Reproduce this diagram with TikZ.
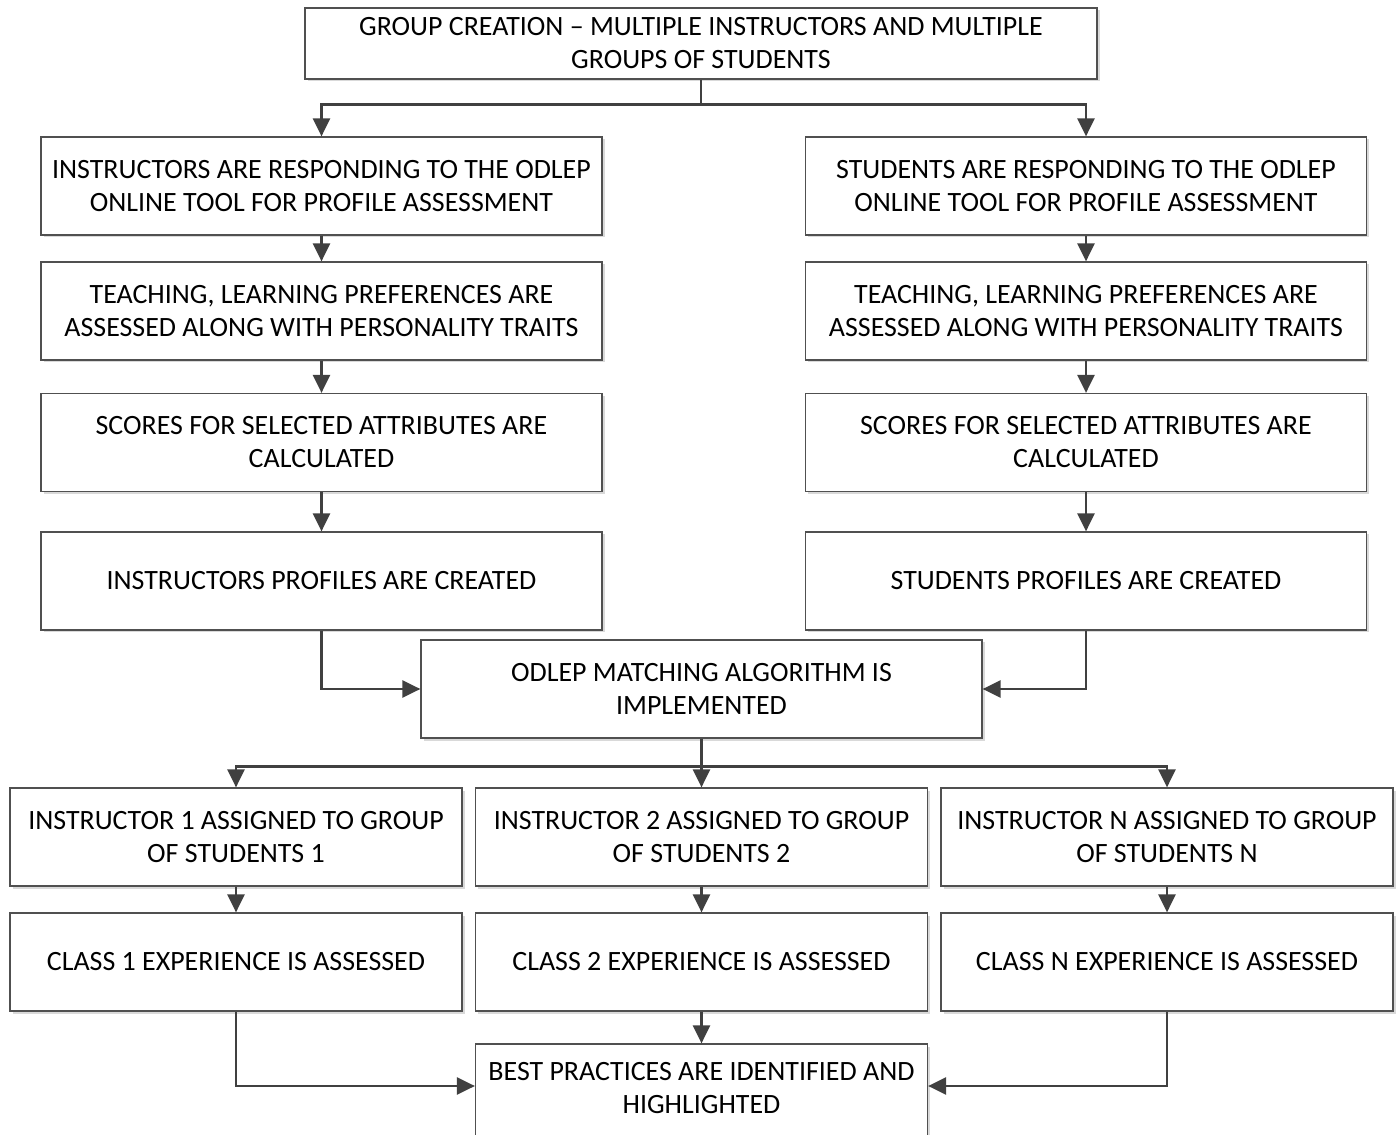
\documentclass[tikz,border=0pt]{standalone}
\usepackage{fontspec}
\setmainfont{Carlito}
\usepackage{tikz}
\usetikzlibrary{shapes.geometric, arrows.meta, shadows}
\definecolor{linegray}{HTML}{404040}
\definecolor{boxgray}{HTML}{505050}
\tikzstyle{stage} = [rectangle, minimum width=11.22cm, minimum height=1.96cm, text centered, align=center, draw=boxgray, line width=0.7pt, fill=white, font=\fontsize{15.9}{18.8}\selectfont, drop shadow={shadow xshift=0.05cm, shadow yshift=-0.05cm, fill=black!15, opacity=1}]
\tikzstyle{topstage} = [stage, minimum width=15.84cm, minimum height=1.42cm]
\tikzstyle{groupstage} = [stage, minimum width=9.04cm]
\tikzstyle{arrow} = [line width=1.4pt, draw=linegray, -{Triangle[length=0.36cm, width=0.34cm]}]

\begin{document}
\begin{tikzpicture}[node distance=2.5cm]
    \useasboundingbox (0,0) rectangle (27.96,-22.7);
    \node (group) [topstage] at (14.02,-0.87) {GROUP CREATION -- MULTIPLE INSTRUCTORS AND MULTIPLE\\GROUPS OF STUDENTS};
    % instructors side
    \node (ins1) [stage, below of=group, xshift=-7.59cm, yshift=-0.35cm] {INSTRUCTORS ARE RESPONDING TO THE ODLEP\\ONLINE TOOL FOR PROFILE ASSESSMENT};
    \node (ins2) [stage, below of=ins1] {TEACHING, LEARNING PREFERENCES ARE\\ASSESSED ALONG WITH PERSONALITY TRAITS};
    \node (ins3) [stage, below of=ins2, yshift=-0.13cm] {SCORES FOR SELECTED ATTRIBUTES ARE\\CALCULATED};
    \node (ins4) [stage, below of=ins3, yshift=-0.27cm] {INSTRUCTORS PROFILES ARE CREATED};
    % students side
    \node (stu1) [stage, below of=group, xshift=7.70cm, yshift=-0.35cm] {STUDENTS ARE RESPONDING TO THE ODLEP\\ONLINE TOOL FOR PROFILE ASSESSMENT};
    \node (stu2) [stage, below of=stu1] {TEACHING, LEARNING PREFERENCES ARE\\ASSESSED ALONG WITH PERSONALITY TRAITS};
    \node (stu3) [stage, below of=stu2, yshift=-0.13cm] {SCORES FOR SELECTED ATTRIBUTES ARE\\CALCULATED};
    \node (stu4) [stage, below of=stu3, yshift=-0.27cm] {STUDENTS PROFILES ARE CREATED};
    % matching
    \node (match) [stage, below of=ins4, xshift=7.60cm, yshift=0.34cm] {ODLEP MATCHING ALGORITHM IS\\IMPLEMENTED};
    \node (asg2) [groupstage, below of=match, yshift=-0.46cm] {INSTRUCTOR 2 ASSIGNED TO GROUP\\OF STUDENTS 2};
    \node (asg1) [groupstage, left of=asg2, xshift=-6.81cm] {INSTRUCTOR 1 ASSIGNED TO GROUP\\OF STUDENTS 1};
    \node (asgn) [groupstage, right of=asg2, xshift=6.81cm] {INSTRUCTOR N ASSIGNED TO GROUP\\OF STUDENTS N};
    \node (cls1) [groupstage, below of=asg1] {CLASS 1 EXPERIENCE IS ASSESSED};
    \node (cls2) [groupstage, below of=asg2] {CLASS 2 EXPERIENCE IS ASSESSED};
    \node (clsn) [groupstage, below of=asgn] {CLASS N EXPERIENCE IS ASSESSED};
    \node (best) [groupstage, below of=cls2, yshift=-0.12cm, text depth=0.2cm] {BEST PRACTICES ARE IDENTIFIED AND\\HIGHLIGHTED};
    \draw [arrow] (group.south) -- ++(0,-0.5) -| (ins1.north);
    \draw [arrow] (group.south) -- ++(0,-0.5) -| (stu1.north);
    \draw [arrow] (ins1) -- (ins2);
    \draw [arrow] (ins2) -- (ins3);
    \draw [arrow] (ins3) -- (ins4);
    \draw [arrow] (stu1) -- (stu2);
    \draw [arrow] (stu2) -- (stu3);
    \draw [arrow] (stu3) -- (stu4);
    \draw [arrow] (ins4.south) |- (match.west);
    \draw [arrow] (stu4.south) |- (match.east);
    \draw [arrow] (match.south) -- ++(0,-0.56) -| (asg1.north);
    \draw [arrow] (match.south) -- (asg2.north);
    \draw [arrow] (match.south) -- ++(0,-0.56) -| (asgn.north);
    \draw [arrow] (asg1) -- (cls1);
    \draw [arrow] (asg2) -- (cls2);
    \draw [arrow] (asgn) -- (clsn);
    \draw [arrow] (cls1.south) |- ([yshift=0.14cm]best.west);
    \draw [arrow] (cls2) -- (best);
    \draw [arrow] (clsn.south) |- ([yshift=0.14cm]best.east);
\end{tikzpicture}
\end{document}
